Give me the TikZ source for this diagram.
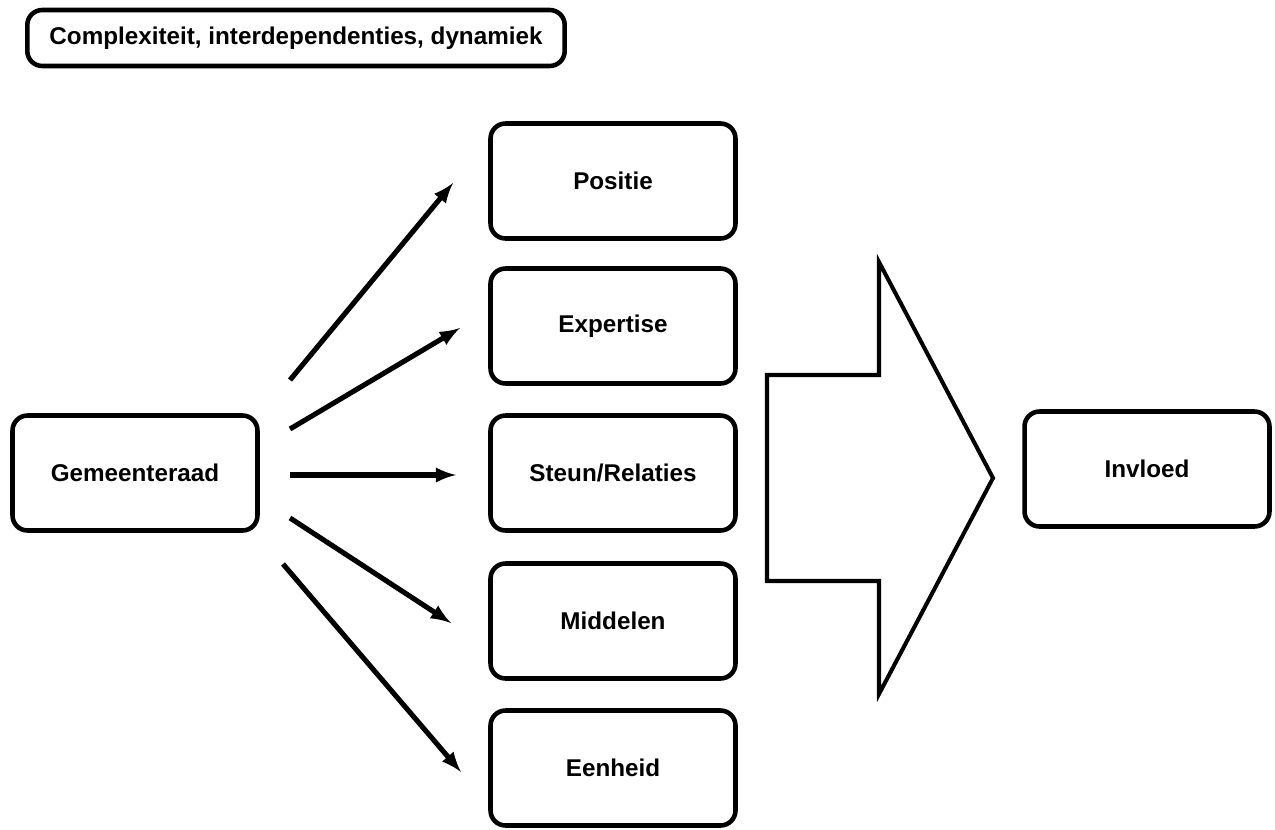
\documentclass[tikz,border=0pt]{standalone}
\usepackage{fontspec}
\setmainfont{Liberation Sans}
\usetikzlibrary{shapes.geometric}
\pgfdeclarelayer{edgelayer}
\pgfdeclarelayer{nodelayer}
\pgfsetlayers{edgelayer,nodelayer,main}
\tikzstyle{none}=[inner sep=0pt]
\tikzstyle{factor}=[rectangle,rounded corners=0.3cm,draw=black,fill=white,line width=2.6pt,minimum width=4.9cm,minimum height=2.3cm,font=\bfseries\fontsize{13.8}{16}\selectfont]
\tikzstyle{context}=[factor,minimum width=10.75cm,minimum height=1.12cm]
\tikzstyle{transition}=[-latex,draw=black,line width=2.9pt]
\tikzstyle{simple}=[-,draw=black,line width=2.3pt]

\begin{document}
\begin{tikzpicture}[x=0.02cm,y=-0.02cm]
	\useasboundingbox (0,0) rectangle (1275,829);
	\begin{pgfonlayer}{nodelayer}
		\node [style=context] (context) at (296, 38) {Complexiteit, interdependenties, dynamiek};
		\node [style=factor] (raad) at (135, 473) {Gemeenteraad};
		\node [style=factor] (positie) at (613, 181) {Positie};
		\node [style=factor] (expertise) at (613, 326) {Expertise};
		\node [style=factor] (steun) at (613, 473) {Steun/Relaties};
		\node [style=factor] (middelen) at (613, 621) {Middelen};
		\node [style=factor] (eenheid) at (613, 768) {Eenheid};
		\node [style=factor] (invloed) at (1147, 469) {Invloed};
		\coordinate (s1) at (290, 380);
		\coordinate (s2) at (290, 429);
		\coordinate (s3) at (290, 475);
		\coordinate (s4) at (290, 518);
		\coordinate (s5) at (283, 564);
		\coordinate (e1) at (453, 183);
		\coordinate (e2) at (460, 328);
		\coordinate (e3) at (456, 475);
		\coordinate (e4) at (451, 623);
		\coordinate (e5) at (461, 772);
	\end{pgfonlayer}
	\begin{pgfonlayer}{edgelayer}
		\draw [style=transition] (s1) to (e1);
		\draw [style=transition] (s2) to (e2);
		\draw [style=transition] (s3) to (e3);
		\draw [style=transition] (s4) to (e4);
		\draw [style=transition] (s5) to (e5);
		\draw [style=simple, fill=white] (767, 375) -- (879, 375) -- (879, 262) -- (993, 478)
			-- (879, 694) -- (879, 581) -- (767, 581) -- cycle;
	\end{pgfonlayer}
\end{tikzpicture}
\end{document}
